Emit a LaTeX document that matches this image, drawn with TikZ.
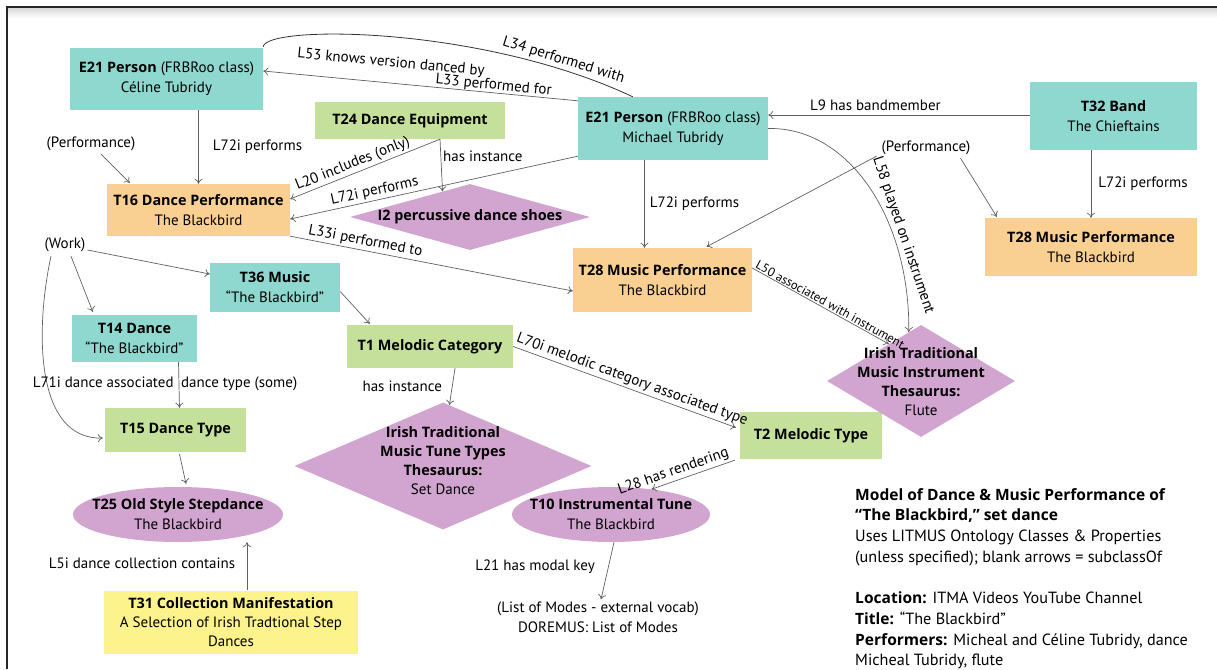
\documentclass[tikz,border=0pt]{standalone}
\usepackage{fontspec}
\setmainfont{PT Sans}[BoldFont={Open Sans Bold}, BoldFeatures={Scale=0.96}]
\usetikzlibrary{shapes.geometric,calc,arrows.meta}
\definecolor{tealfill}{HTML}{8ED8CF}
\definecolor{greenfill}{HTML}{C5E09B}
\definecolor{orangefill}{HTML}{F9D092}
\definecolor{purplefill}{HTML}{D2A5D0}
\definecolor{yellowfill}{HTML}{FDF38D}
\definecolor{linegray}{HTML}{606060}
\begin{document}
\begin{tikzpicture}[x=1pt, y=-1pt,
  every node/.style={font=\fontsize{15}{20}\selectfont},
  box/.style={rectangle, inner sep=0pt, align=center},
  tealbox/.style={box, fill=tealfill},
  greenbox/.style={box, fill=greenfill},
  orangebox/.style={box, fill=orangefill},
  yellowbox/.style={box, fill=yellowfill},
  thesaurus/.style={diamond, fill=purplefill, inner sep=0pt},
  oval/.style={ellipse, fill=purplefill, inner sep=0pt},
  lbl/.style={inner sep=2pt, align=center},
  link/.style={draw=linegray, line width=0.7pt, -{To[length=5pt,width=8pt]}},
  bare/.style={draw=black!80, line width=0.8pt}]
\useasboundingbox (0,0) rectangle (1217,669);
% frame
\fill[top color=black!15, bottom color=white] (8,8) rectangle (1217,18);
\draw[line width=2pt, black!85] (7,669) -- (7,7) -- (1217,7);

% persons and band
\node[tealbox, minimum width=193, minimum height=62] (celine) at (166.5,79) {\textbf{E21 Person} (FRBRoo class)\\Céline Tubridy};
\node[tealbox, minimum width=190, minimum height=63] (michael) at (673,128.5) {\textbf{E21 Person} (FRBRoo class)\\Michael Tubridy};
\node[tealbox, minimum width=167, minimum height=68] (band) at (1113.5,116) {\textbf{T32 Band}\\The Chieftains};
\node[greenbox, minimum width=190, minimum height=37] (equip) at (410,120.5) {\textbf{T24 Dance Equipment}};

% performances
\node[orangebox, minimum width=183, minimum height=52] (danceperf) at (198.5,210) {\textbf{T16 Dance Performance}\\The Blackbird};
\node[orangebox, minimum width=179, minimum height=64] (musperf) at (662.5,280) {\textbf{T28 Music Performance}\\The Blackbird};
\node[orangebox, minimum width=212, minimum height=58] (bandperf) at (1091,247) {\textbf{T28 Music Performance}\\The Blackbird};
\node[thesaurus, minimum width=240, minimum height=66] (shoes) at (470,217) {};
\node[lbl] (shoestext) at (shoes) {\textbf{I2 percussive dance shoes}};
\node[lbl] (perfL) at (91,144) {(Performance)};
\node[lbl] (perfR) at (926,148) {(Performance)};

% works and types
\node[lbl] (work) at (65,245) {(Work)};
\node[tealbox, minimum width=130, minimum height=49] (music) at (275,287.5) {\textbf{T36 Music}\\“The Blackbird”};
\node[tealbox, minimum width=125, minimum height=47] (dance) at (134.5,338.5) {\textbf{T14 Dance}\\“The Blackbird”};
\node[greenbox, minimum width=166, minimum height=43] (melcat) at (430,346.5) {\textbf{T1 Melodic Category}};
\node[greenbox, minimum width=141, minimum height=44] (dtype) at (175.5,430) {\textbf{T15 Dance Type}};
\node[greenbox, minimum width=142, minimum height=47] (meltype) at (811,435.5) {\textbf{T2 Melodic Type}};
\node[thesaurus, minimum width=188, minimum height=112] (instthes) at (921,381) {};
\node[lbl, font=\fontsize{15}{19}\selectfont] (insttext) at (921,382) {\textbf{Irish Traditional}\\\textbf{Music Instrument}\\\textbf{Thesaurus:}\\Flute};
\node[thesaurus, minimum width=297, minimum height=127] (tunethes) at (443,466) {};
\node[lbl, font=\fontsize{15}{19}\selectfont] (tunetext) at (443,461) {\textbf{Irish Traditional}\\\textbf{Music Tune Types}\\\textbf{Thesaurus:}\\Set Dance};
\node[oval, minimum width=210, minimum height=55] (stepdance) at (178,514.5) {};
\node[lbl] (steptext) at (stepdance) {\textbf{T25 Old Style Stepdance}\\The Blackbird};
\node[oval, minimum width=198, minimum height=55] (tune) at (611,514.5) {};
\node[lbl] (tunetext2) at (tune) {\textbf{T10 Instrumental Tune}\\The Blackbird};
\node[yellowbox, minimum width=254, minimum height=63, font=\fontsize{15}{19}\selectfont] (collection) at (231,622) {\textbf{T31 Collection Manifestation}\\A Selection of Irish Tradtional Step\\Dances};
\node[lbl] (modes) at (598,617) {(List of Modes - external vocab)\\DOREMUS: List of Modes};

% legend
\node[anchor=north west, align=left, inner sep=0pt, font=\fontsize{16.2}{20.7}\selectfont] (legend) at (855,488)
  {\textbf{Model of Dance \& Music Performance of}\\
   \textbf{“The Blackbird,” set dance}\\
   Uses LITMUS Ontology Classes \& Properties\\
   (unless specified); blank arrows = subclassOf\\[20.7pt]
   \textbf{Location:} ITMA Videos YouTube Channel\\
   \textbf{Title:} “The Blackbird”\\
   \textbf{Performers:} Micheal and Céline Tubridy, dance\\
   Micheal Tubridy, flute};

% connectors, top
\draw[bare] ($(celine.north east)+(0,-1)$) .. controls (265,25) and (480,25) .. ($(michael.north west)+(55,0)$)
  node[pos=0.85, above, sloped, lbl] (l34) {L34 performed with};
\draw[link] ($(michael.north west)+(0,4)$) -- ($(celine.east)+(0,-8)$)
  node[pos=0.6, above=11pt, sloped, lbl] (l53) {L53 knows version danced by}
  node[pos=0.27, above, sloped, inner sep=0pt] (l33) {L33 performed for};
\draw[link] ($(band.west)+(0,-1)$) -- ($(michael.east)+(0,-13.5)$)
  node[pos=0.59, above=2pt, lbl] (l9) {L9 has bandmember};
\draw[link] (celine.south -| danceperf.north) -- (danceperf.north)
  node[midway, right=12pt, lbl] (l72a) {L72i performs};
\draw[link] ($(perfL.south)+(10,1)$) -- ($(danceperf.north west)+(23,-1)$);
\draw[link] ($(equip.south)+(30,0)$) -- ($(danceperf.east)+(0,-11)$)
  node[pos=0.56, above, sloped, lbl] (l20) {L20 includes (only)};
\draw[link] ($(equip.south)+(30,0)$) -- (shoes.137)
  node[pos=0.33, right, lbl] (hasinst) {has instance};
\draw[link] ($(michael.south west)+(0,-4)$) -- ($(danceperf.east)+(0,9)$)
  node[pos=0.7, above, sloped, lbl] (l72b) {L72i performs};
\draw[link] (danceperf.south east) -- ($(musperf.west)+(0,11)$)
  node[pos=0.26, above, sloped, lbl] (l33i) {L33i performed to};
\coordinate (m72) at ($(musperf.north)+(-18,0)$);
\draw[link] (michael.south -| m72) -- (m72)
  node[midway, right=3pt, lbl] (l72c) {L72i performs};
\draw[link] ($(perfR.south west)+(-3,-1)$) -- ($(musperf.north)+(44,-1)$);
\draw[link] ($(perfR.south east)+(-12,1)$) -- ($(bandperf.north west)+(12,-1)$);
\draw[link] (band.south -| bandperf.north) -- (bandperf.north)
  node[midway, right=5pt, lbl] (l72d) {L72i performs};
\draw[link] (michael.east) .. controls (850,127) and (910,220) .. (instthes.104)
  node[pos=0.7, above, sloped, lbl] (l58) {L58 played on instrument};
\draw[link] ($(musperf.east)+(0,-12)$) -- (instthes.131)
  node[pos=0.55, above, sloped, inner sep=1pt, font=\fontsize{12.5}{14}\selectfont] (l50) {L50 associated with instrument};

% connectors, bottom
\draw[link] ($(work.east)+(0,5)$) -- ($(music.west)+(0,-13.5)$);
\draw[link] ($(work.south)+(6,2)$) -- ($(dance.north west)+(21,-3)$);
\draw[link] ($(work.south)+(-14,2)$) .. controls (35,330) and (35,440) .. ($(dtype.west)+(-2,8)$);
\draw[link] ($(music.east)+(0,4)$) -- ($(melcat.north west)+(23,-1)$);
\draw[link] ($(dance.south)+(44,0)$) -- ($(dtype.north)+(4,0)$);
\node[lbl] (l71) at (165,384) {L71i dance associated\enspace dance type (some)};
\draw[link] ($(melcat.south)+(25,0)$) -- (tunethes.84)
  node[midway, left=8pt, lbl] (hasinst2) {has instance};
\draw[link] (melcat.east) -- ($(meltype.west)+(-4,-8)$)
  node[pos=0.52, above, sloped, lbl] (l70i) {L70i melodic category associated type};
\draw[link] ($(meltype.south west)+(-5,1)$) -- (tune.32)
  node[pos=0.7, above, sloped, lbl] (l28) {L28 has rendering};
\draw[link] ($(dtype.south)+(4,2)$) -- ($(stepdance.north)+(8,-3)$);
\draw[link] ($(collection.north)+(16,0)$) -- ($(stepdance.south)+(69,0)$);
\node[lbl] (l5i) at (142,563) {L5i dance collection contains};
\draw[link] ($(tune.south)+(3,0)$) -- ($(modes.north)+(3,0)$);
\node[lbl] (l21) at (535,567) {L21 has modal key};
\end{tikzpicture}
\end{document}
